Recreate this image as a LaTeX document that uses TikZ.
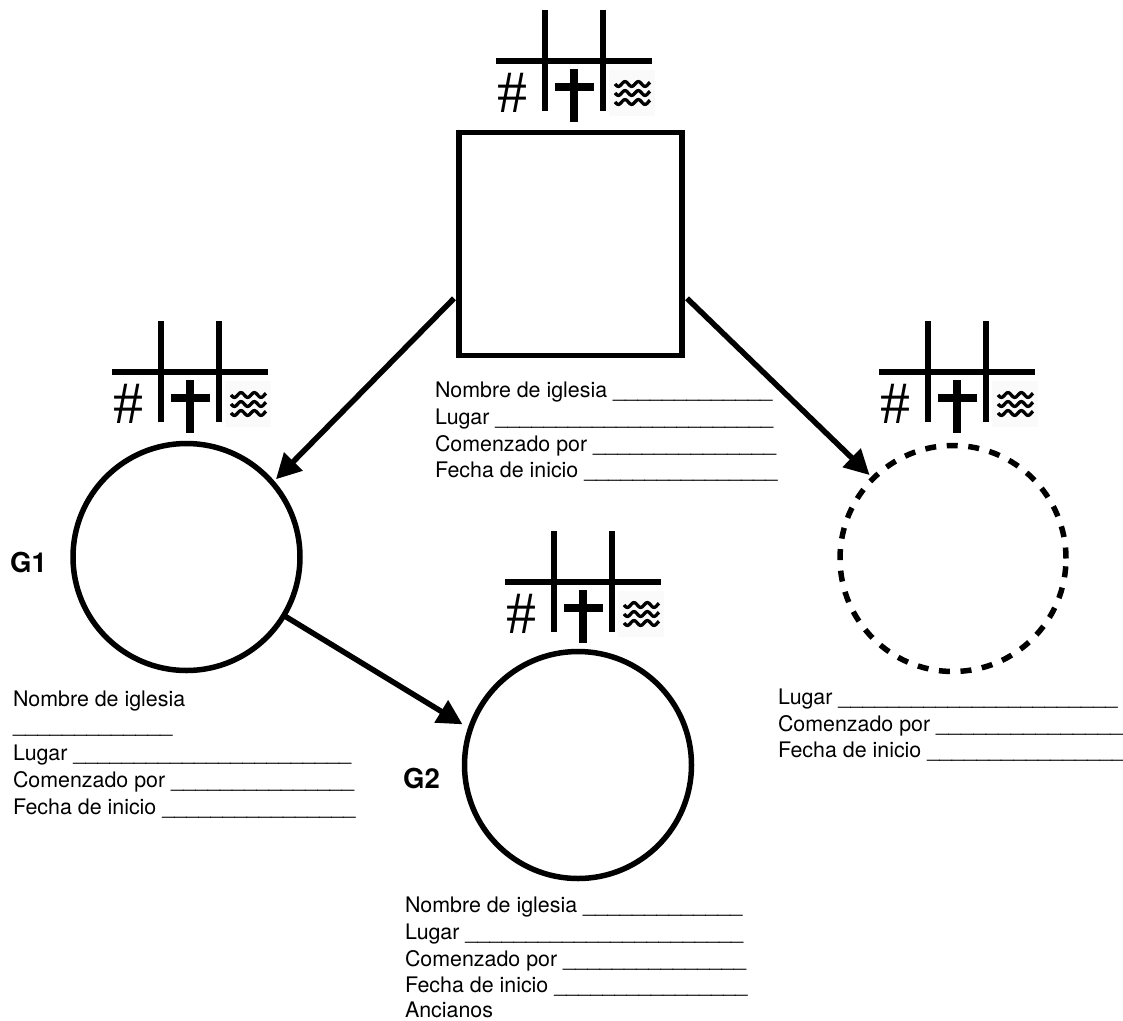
\documentclass[tikz,border=0pt]{standalone}
\usepackage{fontspec}
\setmainfont{TeX Gyre Heros}
\newfontfamily\hashfont{Liberation Serif}
\usetikzlibrary{arrows.meta}
\newcommand{\blankrun}[2]{\scalebox{#2}[1]{\foreach \i in {1,...,#1}{\_}}}
\tikzset{
  x=1pt,y=-1pt,
  rule/.style={line width=5.5pt,black},
  crossrule/.style={line width=8.5pt,black},
  wavy/.style={line width=3.3pt,black},
  formline/.style={anchor=base west,inner sep=0pt,outer sep=0pt,font=\fontsize{21.4}{25}\selectfont},
  glabel/.style={anchor=base west,inner sep=0pt,font=\fontsize{27.5}{29}\bfseries\selectfont},
  squarebox/.style={draw,line width=5.5pt,minimum size=223pt,outer sep=5pt,inner sep=0pt},
  ring/.style={circle,draw,line width=5.5pt,minimum size=227pt,outer sep=5pt,inner sep=0pt},
  dashring/.style={ring,minimum size=226pt,dash pattern=on 11pt off 10.6pt},
  flow/.style={line width=5.5pt,-{Triangle[length=25pt,width=25pt]}},
  hashmark/.style={inner sep=0pt,font=\hashfont\fontsize{60}{62}\selectfont},
  wavepatch/.style={inner sep=0pt,fill=black!2,minimum size=46pt},
  pics/tally/.style={code={
    \draw[rule] (496,61) -- (652,61);
    \draw[rule] (545,10) -- (545,111);
    \draw[rule] (603,10) -- (603,111);
    \node[wavepatch] (-wave) at (632,93) {};
    \foreach \yy in {84,93,102}{
      \draw[wavy] plot[domain=0:35,samples=50,smooth] ({615+\x},{\yy+2.4*sin(\x*27)});
    }
    \node[hashmark] (-hash) at (512.5,93) {\#};
    \draw[crossrule] (574,69) -- (574,122);
    \draw[crossrule] (555,87) -- (594,87);
  }}
}
\begin{document}
\begin{tikzpicture}
\useasboundingbox (0,0) rectangle (1123,1020);
\pic (ta) at (0,0) {tally};
\pic (tb) at (-384,311) {tally};
\pic (tc) at (383,311) {tally};
\pic (td) at (9,521) {tally};

\node[squarebox] (sq) at (570.5,244) {};
\node[ring] (c1) at (186.5,557) {};
\node[ring] (c2) at (578,765) {};
\node[dashring] (c3) at (953,558.5) {};

\draw[flow] (sq.205.6) -- (c1.41.6);
\draw[flow] (sq.-25.5) -- (c3.135);
\draw[flow,shorten <=-4.4pt,shorten >=4pt] (c1.-31) -- (c2.161.7);

\node[glabel] (g1) at (10,572) {G1};
\node[glabel] (g2) at (403,788) {G2};

\node[formline] (a1) at (435,397) {Nombre de iglesia \blankrun{13}{1.03}};
\node[formline] (a2) at (435,424) {Lugar \blankrun{23}{1.015}};
\node[formline] (a3) at (435,451) {Comenzado por \blankrun{15}{1.025}};
\node[formline] (a4) at (435,477) {Fecha de inicio \blankrun{16}{1.015}};

\node[formline] (b1) at (13,706) {Nombre de iglesia};
\node[formline] (b2) at (13,732) {\blankrun{13}{1.03}};
\node[formline] (b3) at (13,760) {Lugar \blankrun{23}{1.015}};
\node[formline] (b4) at (13,787) {Comenzado por \blankrun{15}{1.025}};
\node[formline] (b5) at (13,814) {Fecha de inicio \blankrun{16}{1.015}};

\node[formline] (d1) at (405,912) {Nombre de iglesia \blankrun{13}{1.03}};
\node[formline] (d2) at (405,939) {Lugar \blankrun{23}{1.015}};
\node[formline] (d3) at (405,966) {Comenzado por \blankrun{15}{1.025}};
\node[formline] (d4) at (405,992) {Fecha de inicio \blankrun{16}{1.015}};
\node[formline] (d5) at (405,1017.5) {Ancianos};

\node[formline] (e1) at (778,704) {Lugar \blankrun{23}{1.02}};
\node[formline] (e2) at (778,731) {Comenzado por \blankrun{15}{1.045}};
\node[formline] (e3) at (778,757) {Fecha de inicio \blankrun{16}{1.035}};
\end{tikzpicture}
\end{document}
